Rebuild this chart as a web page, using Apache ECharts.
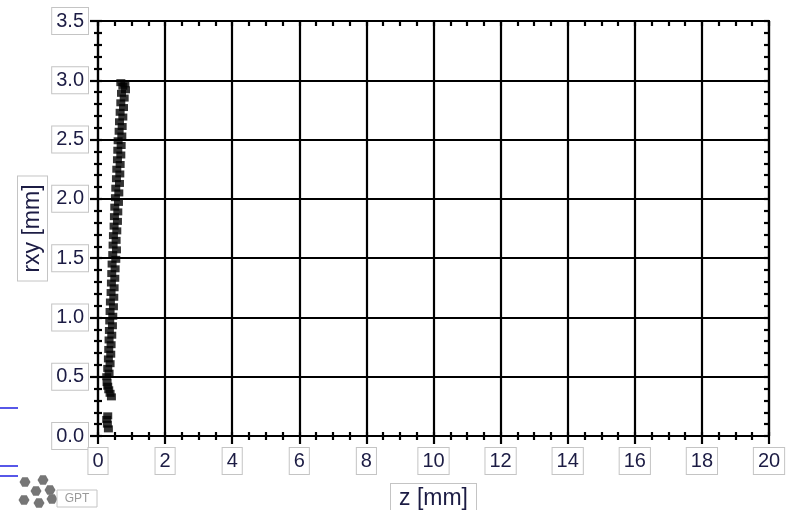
<!DOCTYPE html>
<html><head><meta charset="utf-8">
<script src="https://cdn.jsdelivr.net/npm/echarts@6/dist/echarts.min.js"></script>
<style>html,body{margin:0;padding:0;background:#fff}#c{width:792px;height:510px}</style>
</head><body><div id="c"></div>
<script>
var zValues = [0.31,0.28,0.26,0.29,0.40,0.36,0.32,0.29,0.27,0.26,0.33,0.29,0.36,0.31,0.38,0.32,0.39,0.33,0.41,0.34,0.43,0.35,0.44,0.36,0.46,0.37,0.47,0.39,0.48,0.40,0.50,0.41,0.51,0.42,0.53,0.44,0.55,0.45,0.54,0.46,0.56,0.48,0.58,0.49,0.59,0.50,0.61,0.52,0.62,0.53,0.64,0.55,0.65,0.56,0.66,0.58,0.68,0.59,0.69,0.60,0.71,0.63,0.72,0.64,0.74,0.66,0.76,0.68,0.78,0.70,0.82,0.74,0.80,0.68];
var rxyValues = [0.06,0.10,0.14,0.17,0.33,0.36,0.39,0.42,0.45,0.50,0.53,0.57,0.61,0.65,0.69,0.73,0.77,0.81,0.85,0.89,0.93,0.97,1.01,1.05,1.09,1.13,1.17,1.21,1.25,1.29,1.33,1.37,1.41,1.45,1.49,1.53,1.57,1.61,1.65,1.69,1.73,1.77,1.81,1.85,1.89,1.93,1.97,2.01,2.05,2.09,2.13,2.17,2.21,2.25,2.29,2.33,2.37,2.41,2.45,2.49,2.53,2.57,2.61,2.65,2.69,2.73,2.77,2.81,2.85,2.89,2.92,2.95,2.97,2.98];
var xTickLabels = ['0','2','4','6','8','10','12','14','16','18','20'];
var yTickLabels = ['0.0','0.5','1.0','1.5','2.0','2.5','3.0','3.5'];
var xName = 'z [mm]';
var yName = 'rxy [mm]';

var points = zValues.map(function(z,i){return [z, rxyValues[i]];});
var FONT = 'Liberation Sans';
var TXT = '#1c1c44';
var boxLabel = {fontFamily: FONT, fontSize: 20, lineHeight: 20, color: TXT, backgroundColor: '#fff', borderColor: '#c4c4c4', borderWidth: 1, padding: [3,4,3,4]};
var nameLabel = {fontFamily: FONT, fontSize: 23, lineHeight: 23, color: TXT, backgroundColor: '#fff', borderColor: '#c4c4c4', borderWidth: 1, padding: [3,8,3,8]};
var lineStyle = {color: '#000', width: 2.2};

var chart = echarts.init(document.getElementById('c'), null, {renderer: 'canvas'});
var hex = function(cx, cy){ return {type:'polygon', shape:{points:[[cx-5.5,cy],[cx-2.75,cy-4.8],[cx+2.75,cy-4.8],[cx+5.5,cy],[cx+2.75,cy+4.8],[cx-2.75,cy+4.8]]}, style:{fill:'#767676'}}; };
chart.setOption({
  animation: false,
  backgroundColor: '#fff',
  grid: {left: 98, right: 23, top: 21, bottom: 74, outerBoundsMode: 'none', containLabel: false},
  xAxis: [
    {type:'value', position:'bottom', min:0, max:20, interval:2,
     name: xName, nameLocation:'middle', nameGap: 48, nameMoveOverlap: false,
     nameTextStyle: nameLabel,
     axisLine:{show:true, onZero:false, lineStyle:lineStyle},
     axisTick:{show:true, length:8, lineStyle:lineStyle},
     minorTick:{show:true, splitNumber:4, length:4, lineStyle:lineStyle},
     splitLine:{show:true, lineStyle:lineStyle},
     axisLabel: Object.assign({margin:12, formatter:function(v){return xTickLabels[Math.round(v/2)];}}, boxLabel)},
    {type:'value', position:'bottom', min:0, max:20, interval:2,
     axisLine:{show:false}, axisTick:{show:true, inside:true, length:4, lineStyle:lineStyle},
     minorTick:{show:true, splitNumber:4, length:4, lineStyle:lineStyle},
     splitLine:{show:false}, axisLabel:{show:false}},
    {type:'value', position:'top', min:0, max:20, interval:2,
     axisLine:{show:true, onZero:false, lineStyle:lineStyle}, axisTick:{show:true, inside:true, length:5, lineStyle:lineStyle},
     minorTick:{show:true, splitNumber:4, length:5, lineStyle:lineStyle},
     splitLine:{show:false}, axisLabel:{show:false}}
  ],
  yAxis: [
    {type:'value', position:'left', min:0, max:3.5, interval:0.5,
     name: yName, nameLocation:'middle', nameGap: 51, nameRotate: 90, nameMoveOverlap: false,
     nameTextStyle: nameLabel,
     axisLine:{show:true, onZero:false, lineStyle:lineStyle},
     axisTick:{show:true, length:8, lineStyle:lineStyle},
     minorTick:{show:true, splitNumber:5, length:4, lineStyle:lineStyle},
     splitLine:{show:true, lineStyle:lineStyle},
     axisLabel: Object.assign({margin:10, formatter:function(v){return yTickLabels[Math.round(v/0.5)];}}, boxLabel)},
    {type:'value', position:'left', min:0, max:3.5, interval:0.5,
     axisLine:{show:false}, axisTick:{show:true, inside:true, length:4, lineStyle:lineStyle},
     minorTick:{show:true, splitNumber:5, length:4, lineStyle:lineStyle},
     splitLine:{show:false}, axisLabel:{show:false}},
    {type:'value', position:'right', min:0, max:3.5, interval:0.5,
     axisLine:{show:true, onZero:false, lineStyle:lineStyle}, axisTick:{show:true, inside:true, length:5, lineStyle:lineStyle},
     minorTick:{show:true, splitNumber:5, length:5, lineStyle:lineStyle},
     splitLine:{show:false}, axisLabel:{show:false}}
  ],
  series: [{
    type:'scatter', xAxisIndex:0, yAxisIndex:0, data: points,
    symbol:'rect', symbolSize:[9,7], itemStyle:{color:'#000'}
  }],
  graphic: [
    {type:'line', shape:{x1:0,y1:408,x2:18,y2:408}, style:{stroke:'#1f1fe0', lineWidth:1.5}},
    {type:'line', shape:{x1:0,y1:466,x2:18,y2:466}, style:{stroke:'#1f1fe0', lineWidth:1.5}},
    {type:'line', shape:{x1:0,y1:476,x2:18,y2:476}, style:{stroke:'#1f1fe0', lineWidth:1.5}},
    hex(25,482), hex(43,480), hex(36,491), hex(50,490), hex(24,500), hex(39,503), hex(52,499),
    {type:'rect', shape:{x:57,y:490,width:40,height:17}, style:{fill:'#fff', stroke:'#c4c4c4', lineWidth:1}},
    {type:'text', x:77, y:499, style:{text:'GPT', font:'12px "Liberation Sans"', fill:'#9a9a9a', align:'center', verticalAlign:'middle'}}
  ]
});
</script></body></html>
